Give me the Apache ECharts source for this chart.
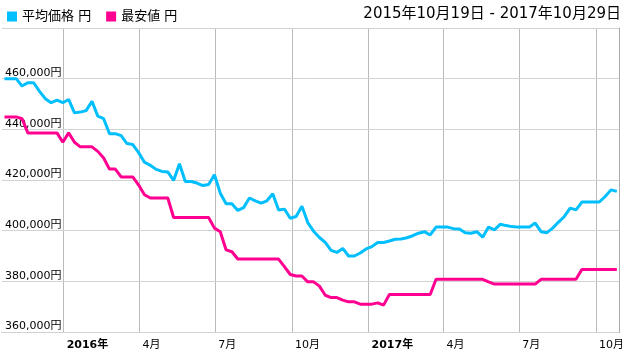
<!DOCTYPE html>
<html>
<head>
<meta charset="utf-8">
<script src="https://cdn.jsdelivr.net/npm/echarts@6/dist/echarts.min.js"></script>
<style>html,body{margin:0;padding:0;background:#fff;}#c{width:627px;height:358px;}</style>
</head>
<body>
<div id="c"></div>
<script>
// weekly observations starting 2015-10-22
const startDate = [2015, 9, 22];
const seriesNames = ['平均価格 円', '最安値 円'];
const avgPrice = [
 460000,460000,460000,457100,458400,458400,455000,452100,450500,451500,
 450500,451800,446500,446800,447400,451100,445200,444200,438300,438300,
 437500,434400,434000,430800,427000,425800,424200,423400,423200,419800,
 426400,419400,419400,418800,417800,418200,422100,414800,410600,410600,
 408000,409100,412900,411800,410900,411800,414600,408200,408500,404900,
 405600,409600,403200,399800,397300,395400,392200,391400,393000,390000,
 390000,391200,392800,393700,395300,395300,395900,396600,396700,397200,
 398000,399000,399600,398300,401400,401400,401400,400800,400700,399200,
 399000,399600,397400,401400,400300,402500,402000,401600,401400,401400,
 401400,403000,399600,399200,401000,403400,405600,408900,408200,411300,
 411300,411300,411300,413500,416100,415500
];
const minPrice = [
 444900,444900,444900,444200,438600,438600,438600,438600,438600,438600,
 434900,438600,434900,433100,433100,433100,431300,428700,424300,424300,
 421200,421200,421200,418000,414200,412900,412900,412900,412900,405200,
 405200,405200,405200,405200,405200,405200,401000,399600,392400,391700,
 388800,388800,388800,388800,388800,388800,388800,388800,385800,382700,
 382100,382100,379800,379800,378100,374500,373600,373600,372600,371900,
 371900,371000,371000,371000,371500,370600,374800,374800,374800,374800,
 374800,374800,374800,374800,380800,380800,380800,380800,380800,380800,
 380800,380800,380800,379800,378900,378900,378900,378900,378900,378900,
 378900,378900,380800,380800,380800,380800,380800,380800,380800,384700,
 384700,384700,384700,384700,384700,384700
];
const xTickDates = [[2016,0,1],[2016,3,1],[2016,6,1],[2016,9,1],[2017,0,1],[2017,3,1],[2017,6,1],[2017,9,1]];
const rangeText = '2015年10月19日 - 2017年10月29日';
const xMin = [2015, 9, 19];
const xMax = [2017, 9, 29];
const yTicks = [360000, 380000, 400000, 420000, 440000, 460000, 480000];

const ts = a => new Date(a[0], a[1], a[2]).getTime();
const dates = avgPrice.map((_, i) => new Date(startDate[0], startDate[1], startDate[2] + 7 * i).getTime());
const tickVals = xTickDates.map(ts);
const FONT = '"DejaVu Sans", "Noto Sans CJK JP", sans-serif';

const chart = echarts.init(document.getElementById('c'), null, {renderer: 'canvas'});
chart.setOption({
  animation: false,
  backgroundColor: '#fff',
  textStyle: {fontFamily: FONT},
  title: {
    text: rangeText, right: 1, top: 2,
    textStyle: {fontSize: 15, fontWeight: 'normal', color: '#000', fontFamily: FONT}
  },
  legend: {
    left: 2, top: 5, icon: 'rect', itemWidth: 10, itemHeight: 10, itemGap: 15,
    textStyle: {fontSize: 13, color: '#000', fontFamily: FONT},
    data: seriesNames
  },
  grid: {left: 2, right: 7, top: 28, bottom: 26, containLabel: false},
  xAxis: {
    type: 'value',
    min: ts(xMin), max: ts(xMax),
    axisLine: {show: true, lineStyle: {color: '#888', width: 1}},
    axisTick: {show: false, customValues: tickVals},
    splitLine: {show: true, lineStyle: {color: '#bbb', width: 1}},
    axisLabel: {
      customValues: tickVals,
      align: 'left', padding: [0, 0, 0, 3], margin: 8,
      fontSize: 11, color: '#000', fontFamily: FONT,
      formatter: v => { const d = new Date(v); return d.getMonth() === 0 ? '{b|' + d.getFullYear() + '年}' : (d.getMonth() + 1) + '月'; },
      rich: {b: {fontWeight: 'bold', fontSize: 11, color: '#000', fontFamily: FONT}}
    }
  },
  yAxis: [{
    type: 'value', min: yTicks[0], max: yTicks[yTicks.length - 1], interval: yTicks[1] - yTicks[0],
    axisLine: {show: false}, axisTick: {show: false},
    splitLine: {show: true, lineStyle: {color: '#d3d3d3', width: 1}},
    axisLabel: {
      inside: true, margin: 3, align: 'left', verticalAlign: 'bottom',
      fontSize: 11, color: '#000', fontFamily: FONT,
      formatter: v => v === yTicks[yTicks.length - 1] ? '' : v.toLocaleString('en-US') + '円'
    },
    z: 1
  }, {
    type: 'value', position: 'right', min: yTicks[0], max: yTicks[yTicks.length - 1],
    axisLine: {show: true, lineStyle: {color: '#aaa'}}, axisTick: {show: false},
    axisLabel: {show: false}, splitLine: {show: false}
  }],
  series: [{
    name: seriesNames[0], type: 'line', symbol: 'none', z: 3,
    itemStyle: {color: '#00bfff'},
    lineStyle: {width: 3, color: '#00bfff'},
    data: dates.map((d, i) => [d, avgPrice[i]])
  }, {
    name: seriesNames[1], type: 'line', symbol: 'none', z: 3,
    itemStyle: {color: '#ff0090'},
    lineStyle: {width: 3, color: '#ff0090'},
    data: dates.map((d, i) => [d, minPrice[i]])
  }]
});
</script>
</body>
</html>
